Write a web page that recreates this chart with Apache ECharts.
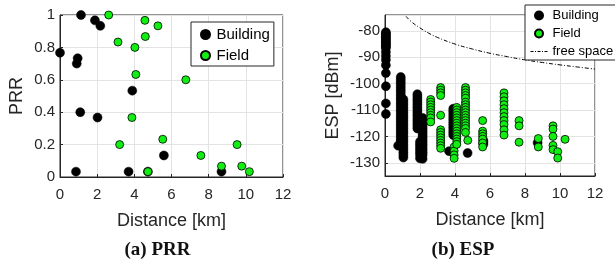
<!DOCTYPE html>
<html>
<head>
<meta charset="utf-8">
<script src="https://cdn.jsdelivr.net/npm/echarts@6.0.0/dist/echarts.min.js"></script>
<style>
html,body{margin:0;padding:0;background:#fff;}
#c{width:615px;height:270px;}
</style>
</head>
<body>
<div id="c"></div>
<script>
// ---- PRR (a) ----
const prrBuildingX = [0, 0.86, 0.9, 0.95, 1.09, 1.13, 1.88, 2.02, 2.17, 3.69, 3.89, 4.73, 5.59, 8.69];
const prrBuildingY = [0.767, 0.033, 0.7, 0.733, 0.4, 1, 0.967, 0.367, 0.933, 0.033, 0.533, 0.033, 0.133, 0.033];
const prrFieldX = [2.62, 3.12, 3.21, 3.87, 4.03, 4.08, 4.57, 4.59, 4.73, 5.27, 5.53, 6.77, 7.58, 8.69, 9.53, 9.78, 10.19];
const prrFieldY = [1, 0.833, 0.2, 0.367, 0.8, 0.633, 0.967, 0.867, 0.033, 0.933, 0.233, 0.6, 0.133, 0.067, 0.2, 0.067, 0.033];

// ---- ESP (b) ----  columns: distance -> list of ESP readings [dBm]
const espBuildingDist = [0.05, 0.75, 0.9, 1.05, 1.85, 2.0, 2.15, 3.66, 3.9, 4.72, 5.62, 8.72];
const espBuildingVals = [
  [-80.5,-81,-81.5,-82,-82.5,-83,-83.5,-84,-84.5,-85,-85.5,-86,-86.5,-88,-89.5,-91,-93,-96,-101,-107.5,-111.5],
  [-123.5],
  [-97.5,-98.5,-99.5,-100.5,-101.5,-102.5,-103.5,-104.5,-105.5,-106.5,-107.5,-108.5,-109.5,-110.5,-111.5,-112.5,-113.5,-114.5,-115.5,-116.5,-117.5,-118.5,-119.5,-120.5,-121.5,-122.5,-123.5],
  [-106,-107,-108,-109,-110,-111,-112,-113,-114,-115,-116,-117,-118,-119,-120,-121,-122,-123,-124,-125,-126,-127,-128],
  [-104,-105,-106,-107,-108,-109,-110,-111,-112,-113,-114,-115,-116,-117],
  [-122,-123,-124,-125,-126,-127,-128.3],
  [-113,-114,-115,-116,-117,-118,-119,-120,-121,-122,-123,-124,-125,-126,-127,-128.5],
  [-125.6],
  [-109.5,-110.5,-111.5,-112.5,-113.5,-114.5,-115.5,-116.5,-117.5,-118.5,-119.5],
  [-126.3],
  [-121.5,-122.2,-123],
  [-122.4]
];
const espFieldDist = [2.61, 3.18, 3.95, 4.1, 4.6, 4.73, 5.58, 6.8, 7.66, 8.76, 9.6, 9.87, 10.29];
const espFieldVals = [
  [-106,-107,-108,-109,-110,-111,-112,-113,-114.5],
  [-101.5,-102.5,-103.5,-104.5,-112,-117.5,-118.5,-119.5,-120.5,-121.5,-122.5,-123.5,-124.5],
  [-124,-125.5,-127,-128.3],
  [-109,-110,-111,-112,-113,-114,-115,-116,-117,-118,-119,-120,-121,-122,-123],
  [-101.5,-102.5,-103.5,-104.5,-105.5,-107,-108,-109,-110,-111,-112,-113,-114,-115,-116,-117,-118.5],
  [-121.5],
  [-114,-118,-119,-120,-121,-122.5,-124],
  [-103.5,-105,-106.5,-108,-109.5,-111,-112.5,-114,-115.5,-117.5,-119.5],
  [-114,-116,-122.2],
  [-120.8,-124],
  [-116,-117.2,-120,-123.4,-125],
  [-125.8,-128.2],
  [-121.1]
];
const freeSpaceDist = [1.2, 1.5, 2, 2.5, 3, 4, 5, 6, 7, 8, 9, 10, 11, 12];
const freeSpaceVals = [-74.5, -76.5, -78.9, -80.9, -82.5, -85.0, -86.9, -88.5, -89.8, -91.0, -92.0, -92.9, -93.7, -94.5];

const xTicks = [0, 2, 4, 6, 8, 10, 12];

function pairs(xs, ys) { return xs.map((x, i) => [x, ys[i]]); }
function columns(ds, vs) { const out = []; ds.forEach((d, i) => vs[i].forEach(v => out.push([d, v]))); return out; }

const AX = '#262626';
const GRID = '#e3e3e3';
const SANS = 'Liberation Sans, Arial, sans-serif';
const GREEN = '#11ee11';

function xAxisCfg(gi) {
  return {
    type: 'value', gridIndex: gi, min: xTicks[0], max: xTicks[xTicks.length - 1], interval: xTicks[1] - xTicks[0],
    name: 'Distance [km]', nameLocation: 'middle', nameGap: 35,
    nameTextStyle: { fontFamily: SANS, fontSize: 18, color: AX },
    axisLine: { show: true, lineStyle: { color: AX, width: 1 } },
    axisTick: { show: true, inside: true, length: 3, lineStyle: { color: AX } },
    axisLabel: { fontFamily: SANS, fontSize: 15, color: AX, margin: 10 },
    splitLine: { show: true, lineStyle: { color: GRID, width: 1 } }
  };
}

const option = {
  animation: false,
  backgroundColor: '#fff',
  grid: [
    { left: 60, top: 15, width: 223, height: 162, show: true, borderColor: AX, borderWidth: 1, containLabel: false },
    { left: 385, top: 15, width: 210, height: 161, show: true, borderColor: AX, borderWidth: 1, containLabel: false }
  ],
  xAxis: [xAxisCfg(0), xAxisCfg(1)],
  yAxis: [
    {
      type: 'value', gridIndex: 0, min: 0, max: 1, interval: 0.2,
      name: 'PRR', nameLocation: 'middle', nameGap: 34,
      nameTextStyle: { fontFamily: SANS, fontSize: 18, color: AX },
      axisLine: { show: true, lineStyle: { color: AX, width: 1 } },
      axisTick: { show: true, inside: true, length: 3, lineStyle: { color: AX } },
      axisLabel: { fontFamily: SANS, fontSize: 15, color: AX, margin: 5 },
      splitLine: { show: true, lineStyle: { color: GRID, width: 1 } }
    },
    {
      type: 'value', gridIndex: 1, min: -135, max: -74, splitNumber: 6,
      name: 'ESP [dBm]', nameLocation: 'middle', nameGap: 43,
      nameTextStyle: { fontFamily: SANS, fontSize: 18, color: AX },
      axisLine: { show: true, lineStyle: { color: AX, width: 1 } },
      axisTick: { show: true, inside: true, length: 3, lineStyle: { color: AX } },
      axisLabel: { fontFamily: SANS, fontSize: 15, color: AX, margin: 5, showMinLabel: false, showMaxLabel: false,
        formatter: v => (Math.round(v) % 10 === 0 ? String(Math.round(v)) : '') },
      splitLine: { show: true, lineStyle: { color: GRID, width: 1 } }
    }
  ],
  legend: [
    {
      orient: 'vertical', left: 191, top: 22, width: 85,
      data: ['Building', 'Field'],
      padding: [5, 4, 3, 9], itemGap: 6, itemWidth: 12, itemHeight: 9,
      backgroundColor: '#fff', borderColor: AX, borderWidth: 1, borderRadius: 0,
      textStyle: { fontFamily: SANS, fontSize: 15, color: '#000', lineHeight: 15 },
      selectedMode: false
    },
    {
      orient: 'vertical', left: 525, top: 5,
      data: ['Building', 'Field',
        { name: 'free space', itemStyle: { color: 'rgba(0,0,0,0)', borderWidth: 0, opacity: 0 },
          lineStyle: { color: '#000', width: 1, type: [3, 1.5, 1, 1.5], opacity: 1 } }],
      padding: [4, 4, 2, 5], itemGap: 5, itemWidth: 17, itemHeight: 8,
      backgroundColor: '#fff', borderColor: AX, borderWidth: 1, borderRadius: 0,
      textStyle: { fontFamily: SANS, fontSize: 13, color: '#000', lineHeight: 13 },
      selectedMode: false
    }
  ],
  series: [
    { name: 'Building', type: 'scatter', xAxisIndex: 0, yAxisIndex: 0, clip: false,
      symbol: 'circle', symbolSize: 9, itemStyle: { color: '#000', borderColor: '#000', borderWidth: 0.5, opacity: 1 },
      data: pairs(prrBuildingX, prrBuildingY) },
    { name: 'Field', type: 'scatter', xAxisIndex: 0, yAxisIndex: 0, clip: false,
      symbol: 'circle', symbolSize: 8, itemStyle: { color: GREEN, borderColor: '#000', borderWidth: 0.8, opacity: 1 },
      data: pairs(prrFieldX, prrFieldY) },
    { name: 'Building', type: 'scatter', xAxisIndex: 1, yAxisIndex: 1, clip: false,
      symbol: 'circle', symbolSize: 9, itemStyle: { color: '#000', borderColor: '#000', borderWidth: 0.5, opacity: 1 },
      data: columns(espBuildingDist, espBuildingVals) },
    { name: 'Field', type: 'scatter', xAxisIndex: 1, yAxisIndex: 1, clip: false,
      symbol: 'circle', symbolSize: 8, itemStyle: { color: GREEN, borderColor: '#000', borderWidth: 0.8, opacity: 1 },
      data: columns(espFieldDist, espFieldVals) },
    { name: 'free space', type: 'line', xAxisIndex: 1, yAxisIndex: 1, smooth: true, symbol: 'none', showSymbol: false, clip: true,
      lineStyle: { color: '#000', width: 1, type: [4, 2, 1, 2] }, itemStyle: { color: '#000' },
      data: pairs(freeSpaceDist, freeSpaceVals) }
  ],
  graphic: [
    { type: 'text', x: 157.5, y: 250, style: { text: '(a) PRR', fill: '#111', textAlign: 'center', textVerticalAlign: 'middle',
      font: 'bold 19px "Liberation Serif", "DejaVu Serif", serif' } },
    { type: 'text', x: 463, y: 250, style: { text: '(b) ESP', fill: '#111', textAlign: 'center', textVerticalAlign: 'middle',
      font: 'bold 19px "Liberation Serif", "DejaVu Serif", serif' } }
  ]
};

const chart = echarts.init(document.getElementById('c'), null, { renderer: 'canvas' });
chart.setOption(option);
</script>
</body>
</html>
